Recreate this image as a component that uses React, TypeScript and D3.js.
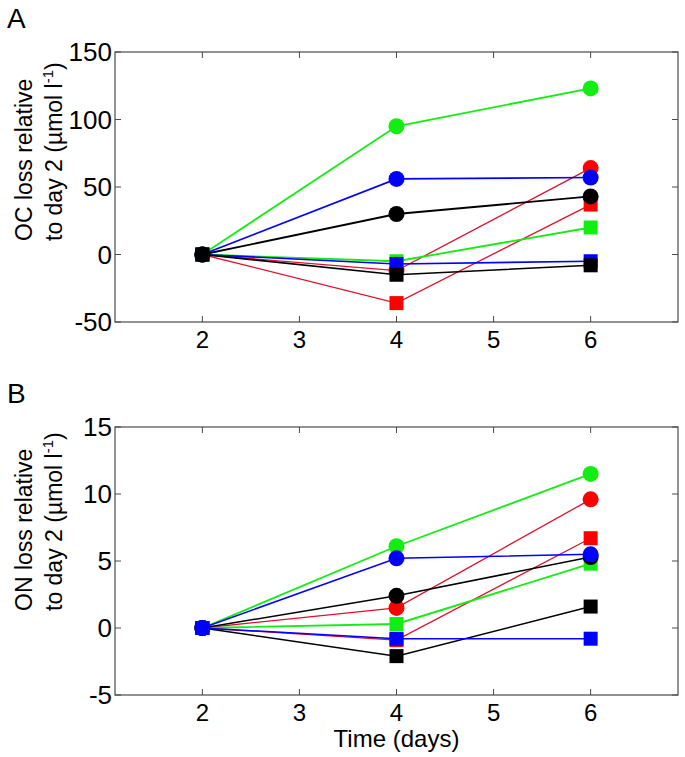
import React from "react";
import * as d3 from "d3";

// ---- data ----
const days = [2, 4, 6];
const xTicks = [2, 3, 4, 5, 6];

// Panel A: OC loss relative to day 2
const ocRedCircle = [0, -12, 64];
const ocRedSquare = [0, -36, 37];
const ocGreenCircle = [0, 95, 123];
const ocGreenSquare = [0, -5, 20];
const ocBlueCircle = [0, 56, 57];
const ocBlueSquare = [0, -7, -5];
const ocBlackCircle = [0, 30, 43];
const ocBlackSquare = [0, -15, -8];
const ocTicks = [-50, 0, 50, 100, 150];

// Panel B: ON loss relative to day 2
const onRedCircle = [0, 1.5, 9.6];
const onRedSquare = [0, -0.9, 6.7];
const onGreenCircle = [0, 6.1, 11.5];
const onGreenSquare = [0, 0.3, 4.8];
const onBlackCircle = [0, 2.4, 5.3];
const onBlackSquare = [0, -2.1, 1.6];
const onBlueCircle = [0, 5.2, 5.5];
const onBlueSquare = [0, -0.8, -0.8];
const onTicks = [-5, 0, 5, 10, 15];

type Series = { values: number[]; color: string; marker: "circle" | "square"; lineColor: string; lw: number };

const RED = "#ff0000";
const GREEN = "#12ee12";
const BLUE = "#0000ff";
const BLACK = "#000000";

const seriesA: Series[] = [
  { values: ocRedSquare, color: RED, marker: "square", lineColor: "#e0102a", lw: 1.3 },
  { values: ocRedCircle, color: RED, marker: "circle", lineColor: "#e0102a", lw: 1.3 },
  { values: ocGreenSquare, color: GREEN, marker: "square", lineColor: GREEN, lw: 1.8 },
  { values: ocGreenCircle, color: GREEN, marker: "circle", lineColor: GREEN, lw: 1.8 },
  { values: ocBlueSquare, color: BLUE, marker: "square", lineColor: BLUE, lw: 1.6 },
  { values: ocBlueCircle, color: BLUE, marker: "circle", lineColor: BLUE, lw: 1.6 },
  { values: ocBlackSquare, color: BLACK, marker: "square", lineColor: BLACK, lw: 1.6 },
  { values: ocBlackCircle, color: BLACK, marker: "circle", lineColor: BLACK, lw: 1.8 },
];

const seriesB: Series[] = [
  { values: onRedSquare, color: RED, marker: "square", lineColor: "#e0102a", lw: 1.3 },
  { values: onRedCircle, color: RED, marker: "circle", lineColor: "#e0102a", lw: 1.3 },
  { values: onGreenSquare, color: GREEN, marker: "square", lineColor: GREEN, lw: 1.8 },
  { values: onGreenCircle, color: GREEN, marker: "circle", lineColor: GREEN, lw: 1.8 },
  { values: onBlackSquare, color: BLACK, marker: "square", lineColor: BLACK, lw: 1.5 },
  { values: onBlackCircle, color: BLACK, marker: "circle", lineColor: BLACK, lw: 1.5 },
  { values: onBlueSquare, color: BLUE, marker: "square", lineColor: BLUE, lw: 1.5 },
  { values: onBlueCircle, color: BLUE, marker: "circle", lineColor: BLUE, lw: 1.6 },
];

const FONT = "'Liberation Sans', Arial, Helvetica, sans-serif";
const AXIS = "#4a4a4a";

type PanelProps = {
  top: number;
  bottom: number;
  yDomain: [number, number];
  yTicks: number[];
  series: Series[];
  letter: string;
  letterY: number;
  label1: string;
  labelStartY: number;
  showXTitle: boolean;
};

const LEFT = 115;
const RIGHT = 678;

function Panel(p: PanelProps) {
  const x = d3.scaleLinear().domain([1.1, 6.9]).range([LEFT, RIGHT]);
  const y = d3.scaleLinear().domain(p.yDomain).range([p.bottom, p.top]);
  const line = d3
    .line<number>()
    .x((_, i) => x(days[i]))
    .y((v) => y(v));
  const tl = 6;
  return (
    <g>
      <text x={7} y={p.letterY} fontFamily={FONT} fontSize={28} fill="#000">
        {p.letter}
      </text>
      {/* box */}
      <rect x={LEFT} y={p.top} width={RIGHT - LEFT} height={p.bottom - p.top} fill="#fff" stroke={AXIS} strokeWidth={1.2} />
      {/* x ticks */}
      {xTicks.map((t) => (
        <g key={"xt" + t}>
          <line x1={x(t)} x2={x(t)} y1={p.bottom} y2={p.bottom - tl} stroke={AXIS} strokeWidth={1} />
          <line x1={x(t)} x2={x(t)} y1={p.top} y2={p.top + tl} stroke={AXIS} strokeWidth={1} />
          <text x={x(t)} y={p.bottom + 26} textAnchor="middle" fontFamily={FONT} fontSize={24} fill="#000">
            {t}
          </text>
        </g>
      ))}
      {/* y ticks */}
      {p.yTicks.map((t) => (
        <g key={"yt" + t}>
          <line x1={LEFT} x2={LEFT + tl} y1={y(t)} y2={y(t)} stroke={AXIS} strokeWidth={1} />
          <line x1={RIGHT} x2={RIGHT - tl} y1={y(t)} y2={y(t)} stroke={AXIS} strokeWidth={1} />
          <text x={LEFT - 3} y={y(t)} dy="0.36em" textAnchor="end" fontFamily={FONT} fontSize={26} fill="#000">
            {t}
          </text>
        </g>
      ))}
      {/* y label */}
      <text
        transform={`translate(32,${p.labelStartY}) rotate(-90)`}
        fontFamily={FONT}
        fontSize={23}
        fill="#000"
      >
        {p.label1}
      </text>
      <text
        transform={`translate(62,${p.labelStartY}) rotate(-90)`}
        fontFamily={FONT}
        fontSize={23}
        fill="#000"
      >
        {"to day 2 (µmol l"}
        <tspan fontSize={15} dy={-9}>
          {"-1"}
        </tspan>
        <tspan dy={9}>{")"}</tspan>
      </text>
      {p.showXTitle && (
        <text x={(LEFT + RIGHT) / 2} y={747} textAnchor="middle" fontFamily={FONT} fontSize={24} fill="#000">
          Time (days)
        </text>
      )}
      {/* series */}
      {p.series.map((s, si) => (
        <g key={"s" + si}>
          <path d={line(s.values) || ""} fill="none" stroke={s.lineColor} strokeWidth={s.lw} />
          {s.values.map((v, i) =>
            s.marker === "circle" ? (
              <circle key={i} cx={x(days[i])} cy={y(v)} r={8} fill={s.color} />
            ) : (
              <rect key={i} x={x(days[i]) - 7} y={y(v) - 7} width={14} height={14} fill={s.color} />
            )
          )}
        </g>
      ))}
    </g>
  );
}

export default function App() {
  return (
    <svg
      width={685}
      height={757}
      style={{ position: "absolute", left: 0, top: 0, background: "#fff" }}
    >
      <rect x={0} y={0} width={685} height={757} fill="#fff" />
      <Panel
        top={52}
        bottom={322}
        yDomain={[-50, 150]}
        yTicks={ocTicks}
        series={seriesA}
        letter="A"
        letterY={28}
        label1="OC loss relative"
        labelStartY={241}
        showXTitle={false}
      />
      <Panel
        top={427}
        bottom={695}
        yDomain={[-5, 15]}
        yTicks={onTicks}
        series={seriesB}
        letter="B"
        letterY={403}
        label1="ON loss relative"
        labelStartY={611}
        showXTitle={true}
      />
    </svg>
  );
}
